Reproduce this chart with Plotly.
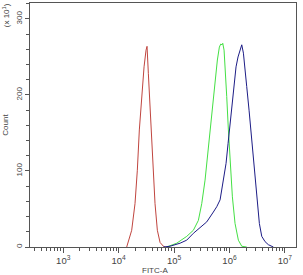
import numpy as np
import plotly.graph_objects as go

# log10(FITC-A) positions and counts
red_log = [4.145, 4.235, 4.295, 4.337, 4.373, 4.416, 4.458, 4.494, 4.512, 4.536,
           4.566, 4.596, 4.626, 4.656, 4.698, 4.747, 4.807, 4.837]
red_cnt = [0, 22, 57, 101, 154, 198, 237, 259, 264, 228,
           189, 145, 101, 57, 22, 6, 1, 0]

green_log = [4.867, 5.048, 5.228, 5.348, 5.438, 5.499, 5.559, 5.601, 5.649, 5.698,
             5.739, 5.781, 5.817, 5.842, 5.866, 5.878, 5.902, 5.926, 5.950, 5.980,
             6.010, 6.052, 6.100, 6.160, 6.221, 6.311]
green_cnt = [0, 5, 14, 22, 35, 57, 88, 119, 154, 189,
             220, 246, 263, 267, 266, 268, 259, 233, 198, 154,
             110, 66, 31, 9, 1, 0]

blue_log = [4.807, 4.927, 5.108, 5.228, 5.348, 5.469, 5.589, 5.709, 5.770, 5.830,
            5.860, 5.902, 5.938, 5.974, 6.010, 6.046, 6.082, 6.118, 6.154, 6.191,
            6.221, 6.251, 6.281, 6.311, 6.353, 6.389, 6.431, 6.467, 6.503, 6.539,
            6.582, 6.642, 6.702, 6.762, 6.792]
blue_cnt = [0, 1, 5, 9, 18, 25, 33, 46, 53, 62,
            75, 92, 110, 136, 163, 189, 215, 237, 250, 259,
            266, 255, 237, 211, 180, 150, 119, 88, 57, 31,
            14, 7, 3, 1, 0]

x_major = [1e3, 1e4, 1e5, 1e6, 1e7]
x_major_text = ["10<sup>3</sup>", "10<sup>4</sup>", "10<sup>5</sup>", "10<sup>6</sup>", "10<sup>7</sup>"]
y_major = [0, 100, 200, 300]
y_major_text = ["0", "100", "200", "300"]

x_minor = [m * 10.0 ** k for k in range(2, 8) for m in range(2, 10)
           if 10 ** 2.4 <= m * 10.0 ** k <= 10 ** 7.2]
y_minor = [v for v in range(0, 321, 20) if v % 100]

FONT = "Liberation Sans, Arial, sans-serif"
fig = go.Figure()
for lg, ct, col in [(red_log, red_cnt, "#c0453f"),
                    (green_log, green_cnt, "#44e044"),
                    (blue_log, blue_cnt, "#1c1c86")]:
    fig.add_trace(go.Scatter(x=10 ** np.array(lg), y=ct, mode="lines",
                             line=dict(color=col, width=1), showlegend=False,
                             hoverinfo="skip"))

fig.update_layout(
    width=303, height=275,
    margin=dict(l=30, r=7, t=3, b=28),
    paper_bgcolor="white", plot_bgcolor="white",
    font=dict(family=FONT, size=9, color="#444"),
    xaxis=dict(type="log", range=[2.4, 7.2], showgrid=False, zeroline=False,
               showline=True, linecolor="#555", linewidth=1, mirror=True,
               ticks="outside", ticklen=5, tickcolor="#555",
               tickvals=x_major, ticktext=x_major_text,
               tickfont=dict(size=9.5, color="#444"),
               minor=dict(tickvals=x_minor, ticks="outside", ticklen=3, tickcolor="#555")),
    yaxis=dict(range=[0, 321], showgrid=False, zeroline=False,
               showline=True, linecolor="#555", linewidth=1, mirror=True,
               ticks="outside", ticklen=4, tickcolor="#555",
               tickvals=y_major, ticktext=y_major_text, tickangle=-90,
               tickfont=dict(size=8, color="#444"),
               minor=dict(tickvals=y_minor, ticks="outside", ticklen=3, tickcolor="#555"),
               title=dict(text="Count", font=dict(size=8, color="#444"), standoff=4)),
    annotations=[dict(text="(x 10<sup>1</sup>)", xref="paper", yref="paper",
                      x=-0.09, y=0.95, xanchor="center", yanchor="middle",
                      textangle=-90, showarrow=False,
                      font=dict(size=8, color="#444")),
                 dict(text="FITC-A", xref="paper", yref="paper",
                      x=0.47, y=-0.097, xanchor="center", yanchor="middle",
                      showarrow=False, font=dict(size=8, color="#444"))],
)
fig.write_html("out.html")
